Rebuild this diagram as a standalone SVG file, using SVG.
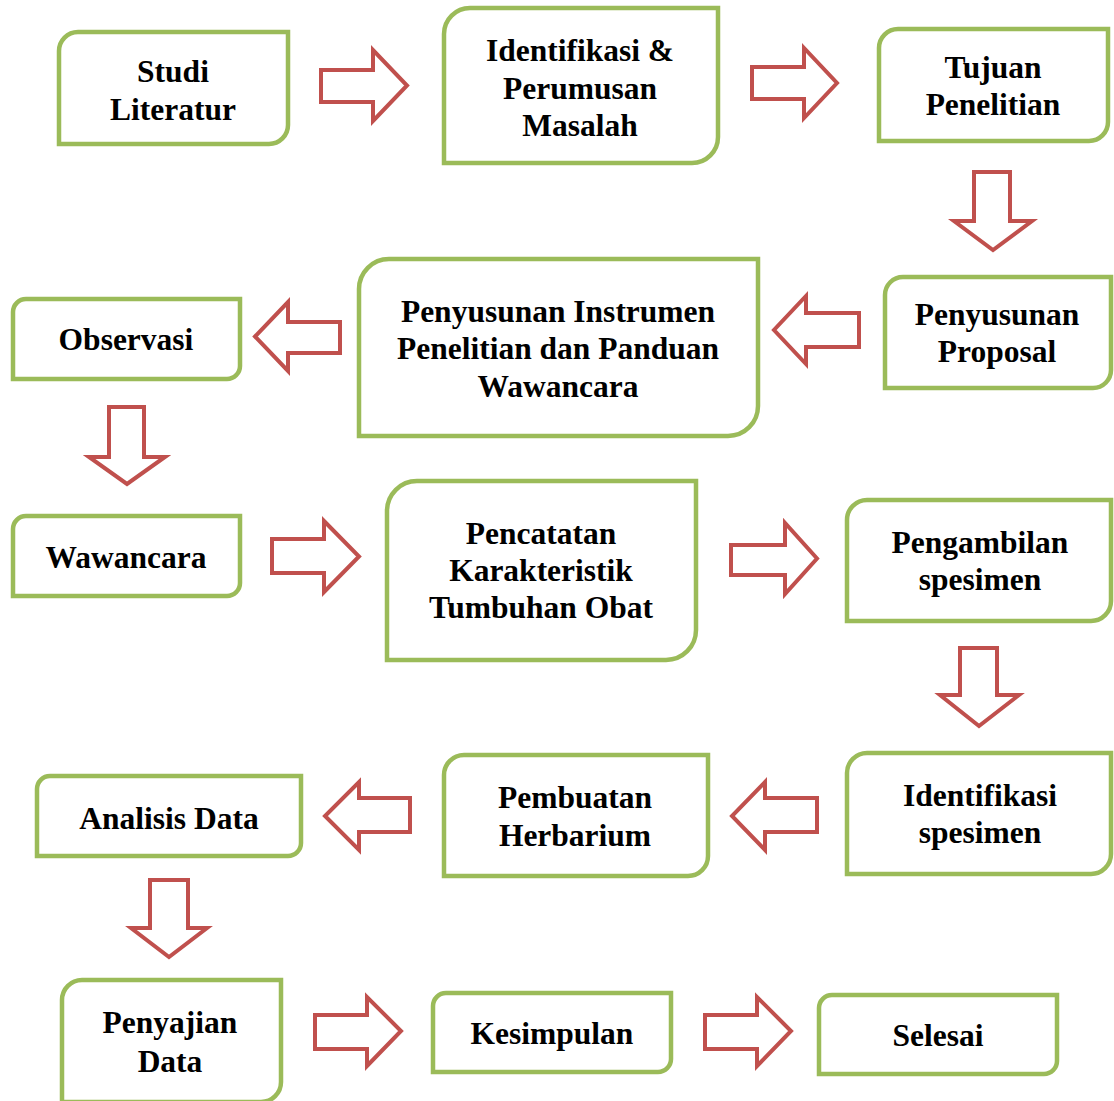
<svg xmlns="http://www.w3.org/2000/svg" width="1114" height="1101" viewBox="0 0 1114 1101">
<style>
.box{fill:#fff;stroke:#9BBB59;stroke-width:4.5}
.arr{fill:#fff;stroke:#C0504D;stroke-width:4;stroke-linejoin:miter}
text{font-family:"Liberation Serif","Times New Roman",serif;font-weight:bold;font-size:31.5px;fill:#000;text-anchor:middle}
</style>
<rect width="1114" height="1101" fill="#fff"/>
<g id="connectors">
<polygon class="arr" points="321,70 373,70 373,50 407,85.5 373,121 373,102 321,102"/>
<polygon class="arr" points="752,67 804,67 804,48 837,83 804,118 804,99 752,99"/>
<polygon class="arr" points="974,172 1010,172 1010,221 1032,221 993,250 954,221 974,221"/>
<polygon class="arr" points="859,313 859,347 806,347 806,364 774,330 806,296 806,313"/>
<polygon class="arr" points="340,322 340,353 288,353 288,371 255,336.5 288,302 288,322"/>
<polygon class="arr" points="109,407 144,407 144,457 165,457 127,484 89,457 109,457"/>
<polygon class="arr" points="272,539 324,539 324,521 359,556.5 324,592 324,573 272,573"/>
<polygon class="arr" points="731,545 785,545 785,523 817,558.5 785,594 785,575 731,575"/>
<polygon class="arr" points="960,648 997,648 997,695 1019,695 979,726 940,695 960,695"/>
<polygon class="arr" points="817,798 817,832 765,832 765,850 732,816 765,782 765,798"/>
<polygon class="arr" points="410,798 410,832 359,832 359,850 325,816 359,782 359,798"/>
<polygon class="arr" points="150,880 188,880 188,928 207,928 169,957 131,928 150,928"/>
<polygon class="arr" points="315,1015 367,1015 367,997 401,1031 367,1066 367,1049 315,1049"/>
<polygon class="arr" points="705,1015 757,1015 757,997 791,1031 757,1066 757,1049 705,1049"/>
</g>
<g id="n1"><path class="box" d="M78,32 H288 V125 A19,19 0 0 1 269,144 H59 V51 A19,19 0 0 1 78,32 Z"/><text x="173" y="82">Studi</text><text x="173" y="120">Literatur</text></g>
<g id="n2"><path class="box" d="M470,8 H718 V137 A26,26 0 0 1 692,163 H444 V34 A26,26 0 0 1 470,8 Z"/><text x="580" y="61">Identifikasi &amp;</text><text x="580" y="99">Perumusan</text><text x="580" y="136">Masalah</text></g>
<g id="n3"><path class="box" d="M898,29 H1108 V122 A19,19 0 0 1 1089,141 H879 V48 A19,19 0 0 1 898,29 Z"/><text x="993" y="78">Tujuan</text><text x="993" y="115">Penelitian</text></g>
<g id="n4"><path class="box" d="M903,277 H1111 V370 A18,18 0 0 1 1093,388 H885 V295 A18,18 0 0 1 903,277 Z"/><text x="997" y="325">Penyusunan</text><text x="997" y="362">Proposal</text></g>
<g id="n5"><path class="box" d="M389,259 H758 V406 A30,30 0 0 1 728,436 H359 V289 A30,30 0 0 1 389,259 Z"/><text x="558" y="322">Penyusunan Instrumen</text><text x="558" y="359">Penelitian dan Panduan</text><text x="558" y="397">Wawancara</text></g>
<g id="n6"><path class="box" d="M26,299 H240 V366 A13,13 0 0 1 227,379 H13 V312 A13,13 0 0 1 26,299 Z"/><text x="126" y="350">Observasi</text></g>
<g id="n7"><path class="box" d="M26,516 H240 V583 A13,13 0 0 1 227,596 H13 V529 A13,13 0 0 1 26,516 Z"/><text x="126" y="568">Wawancara</text></g>
<g id="n8"><path class="box" d="M417,481 H696 V630 A30,30 0 0 1 666,660 H387 V511 A30,30 0 0 1 417,481 Z"/><text x="541" y="544">Pencatatan</text><text x="541" y="581">Karakteristik</text><text x="541" y="618">Tumbuhan Obat</text></g>
<g id="n9"><path class="box" d="M867,500 H1111 V601 A20,20 0 0 1 1091,621 H847 V520 A20,20 0 0 1 867,500 Z"/><text x="980" y="553">Pengambilan</text><text x="980" y="590">spesimen</text></g>
<g id="n10"><path class="box" d="M867,753 H1111 V854 A20,20 0 0 1 1091,874 H847 V773 A20,20 0 0 1 867,753 Z"/><text x="980" y="806">Identifikasi</text><text x="980" y="843">spesimen</text></g>
<g id="n11"><path class="box" d="M464,755 H708 V856 A20,20 0 0 1 688,876 H444 V775 A20,20 0 0 1 464,755 Z"/><text x="575" y="808">Pembuatan</text><text x="575" y="846">Herbarium</text></g>
<g id="n12"><path class="box" d="M50,776 H301 V843 A13,13 0 0 1 288,856 H37 V789 A13,13 0 0 1 50,776 Z"/><text x="169" y="829">Analisis Data</text></g>
<g id="n13"><path class="box" d="M82,980 H281 V1082 A20,20 0 0 1 261,1102 H62 V1000 A20,20 0 0 1 82,980 Z"/><text x="170" y="1033">Penyajian</text><text x="170" y="1072">Data</text></g>
<g id="n14"><path class="box" d="M446,993 H671 V1059 A13,13 0 0 1 658,1072 H433 V1006 A13,13 0 0 1 446,993 Z"/><text x="552" y="1044">Kesimpulan</text></g>
<g id="n15"><path class="box" d="M832,995 H1057 V1061 A13,13 0 0 1 1044,1074 H819 V1008 A13,13 0 0 1 832,995 Z"/><text x="938" y="1046">Selesai</text></g>
</svg>
